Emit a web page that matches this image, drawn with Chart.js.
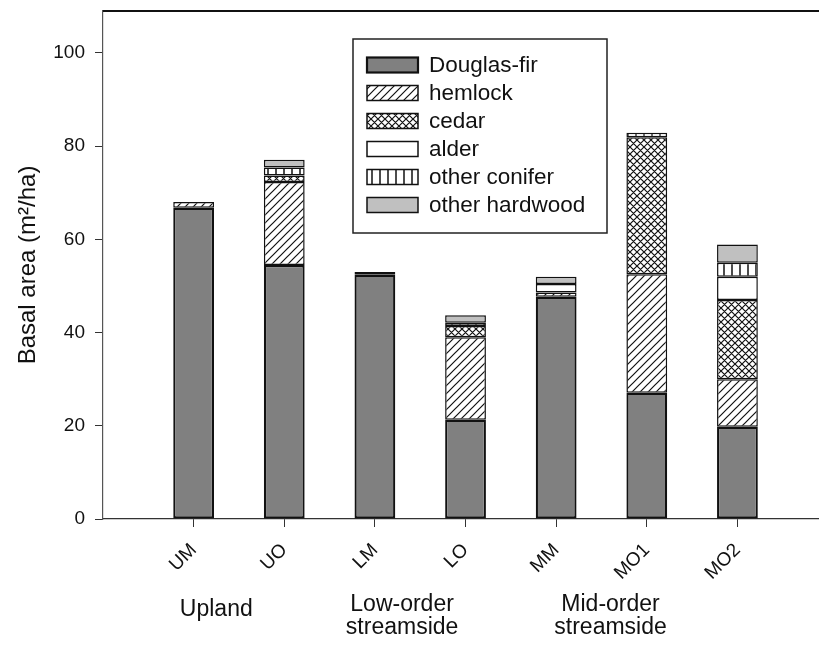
<!DOCTYPE html>
<html>
<head>
<meta charset="utf-8">
<script src="https://cdn.jsdelivr.net/npm/chart.js@4.4.1/dist/chart.umd.min.js"></script>
<style>
  html, body { margin: 0; padding: 0; background: #fff; overflow: hidden; }
  canvas { display: block; }
</style>
</head>
<body>
<canvas id="chart" width="819" height="645"></canvas>
<script>
// ---- data (basal area, m2/ha) ----
var sites = ['UM', 'UO', 'LM', 'LO', 'MM', 'MO1', 'MO2'];
var douglasFir    = [66.8, 54.5, 52.4, 21.3, 47.7, 27.1, 19.8];
var hemlock       = [1.2, 17.8, 0.6, 17.7, 0.9, 25.4, 10.2];
var cedar         = [0, 1.4, 0, 2.4, 0, 29.4, 17.0];
var alder         = [0, 0, 0, 0, 1.8, 0, 5.0];
var otherConifer  = [0, 1.7, 0, 0.7, 0, 1.0, 3.0];
var otherHardwood = [0, 1.7, 0, 1.6, 1.6, 0, 3.9];
var groupLabels = [['Upland'], ['Low-order', 'streamside'], ['Mid-order', 'streamside']];
var yTicks = [0, 20, 40, 60, 80, 100];

var FONT = "'Liberation Sans', Arial, sans-serif";

// ---- fill patterns ----
function makePattern(kind) {
  var size = kind === 'cross' ? 7 : 8;
  var c = document.createElement('canvas');
  c.width = size; c.height = size;
  var g = c.getContext('2d');
  g.fillStyle = '#fff';
  g.fillRect(0, 0, size, size);
  g.strokeStyle = '#111';
  g.lineWidth = 1.2;
  g.beginPath();
  if (kind === 'hatch' || kind === 'cross') {
    g.moveTo(-1, size + 1); g.lineTo(size + 1, -1);
    g.moveTo(-2, 2); g.lineTo(2, -2);
    g.moveTo(size - 2, size + 2); g.lineTo(size + 2, size - 2);
  }
  if (kind === 'cross') {
    g.moveTo(-1, -1); g.lineTo(size + 1, size + 1);
    g.moveTo(-2, size - 2); g.lineTo(2, size + 2);
    g.moveTo(size - 2, -2); g.lineTo(size + 2, 2);
  }
  if (kind === 'vert') {
    g.lineWidth = 1.5;
    g.moveTo(4, 0); g.lineTo(4, size);
  }
  g.stroke();
  return g.createPattern(c, 'repeat');
}

function pts(arr) {
  return arr.map(function(v, i) { return { x: i + 1, y: v || null }; });
}

function ds(label, arr, fill, bw) {
  return {
    label: label, data: pts(arr), backgroundColor: fill,
    borderColor: '#111', borderWidth: bw || 1.5, borderSkipped: false,
    barPercentage: 0.45, categoryPercentage: 1
  };
}

// ---- decorations: frame top line, y title, group labels, legend ----
var decorPlugin = {
  id: 'decor',
  afterDraw: function(chart) {
    var ctx = chart.ctx, a = chart.chartArea, xs = chart.scales.x;
    ctx.save();
    // top frame line
    ctx.strokeStyle = '#111'; ctx.lineWidth = 2;
    ctx.beginPath(); ctx.moveTo(a.left, a.top); ctx.lineTo(a.right, a.top); ctx.stroke();

    // y title
    ctx.fillStyle = '#111';
    ctx.font = '24px ' + FONT;
    ctx.textAlign = 'center'; ctx.textBaseline = 'middle';
    ctx.translate(28, (a.top + a.bottom) / 2);
    ctx.rotate(-Math.PI / 2);
    ctx.fillText('Basal area (m\u00B2/ha)', 0, 0);
    ctx.setTransform(1, 0, 0, 1, 0, 0);

    // group labels
    var at = chart.options.plugins.decor.groupAt;
    ctx.font = '23px ' + FONT;
    groupLabels.forEach(function(lines, i) {
      var gx = xs.getPixelForValue(at[i]);
      var y0 = lines.length > 1 ? 605 : 610;
      lines.forEach(function(t, j) {
        ctx.fillText(t, gx, y0 + j * 23);
      });
    });

    // legend box
    var L = chart.options.plugins.decor.legend;
    ctx.fillStyle = '#fff';
    ctx.fillRect(L.x, L.y, L.w, L.h);
    ctx.strokeStyle = '#222'; ctx.lineWidth = 1.5;
    ctx.strokeRect(L.x, L.y, L.w, L.h);
    ctx.font = '22.5px ' + FONT;
    ctx.textAlign = 'left';
    chart.data.datasets.forEach(function(d, i) {
      var cy = L.y + 26 + i * 28;
      ctx.fillStyle = d.backgroundColor;
      ctx.fillRect(L.x + 14, cy - 7.5, 51, 15);
      ctx.strokeStyle = '#111'; ctx.lineWidth = d.borderWidth;
      ctx.strokeRect(L.x + 14, cy - 7.5, 51, 15);
      ctx.fillStyle = '#111';
      ctx.fillText(d.label, L.x + 76, cy + 1);
    });
    ctx.restore();
  }
};

new Chart(document.getElementById('chart').getContext('2d'), {
  type: 'bar',
  data: {
    datasets: [
      ds('Douglas-fir', douglasFir, '#808080', 2.2),
      ds('hemlock', hemlock, makePattern('hatch')),
      ds('cedar', cedar, makePattern('cross')),
      ds('alder', alder, '#ffffff'),
      ds('other conifer', otherConifer, makePattern('vert')),
      ds('other hardwood', otherHardwood, '#c0c0c0')
    ]
  },
  options: {
    responsive: false, animation: false,
    layout: { padding: { top: 11, left: 0, right: 0, bottom: 0 } },
    scales: {
      x: {
        type: 'linear', stacked: true, min: 0, max: 7.9, offset: false,
        afterFit: function(s) { s.height = 126; s.paddingLeft = 0; s.paddingRight = 0; },
        afterBuildTicks: function(s) {
          s.ticks = sites.map(function(n, i) { return { value: i + 1 }; });
        },
        grid: { drawOnChartArea: false, offset: false, tickLength: 8, color: '#333', lineWidth: 1 },
        border: { color: '#333', width: 1.2 },
        ticks: {
          color: '#111', font: { size: 19, family: FONT },
          maxRotation: 45, minRotation: 45, padding: 12, autoSkip: false,
          callback: function(v) { return sites[v - 1]; }
        }
      },
      y: {
        stacked: true, min: 0, max: 109,
        afterFit: function(s) { s.width = 103; s.paddingTop = 0; s.paddingBottom = 0; },
        afterBuildTicks: function(s) {
          s.ticks = yTicks.map(function(v) { return { value: v }; });
        },
        grid: { drawOnChartArea: false, tickLength: 8, color: '#333', lineWidth: 1 },
        border: { color: '#555', width: 1.2 },
        ticks: { color: '#111', font: { size: 19, family: FONT }, padding: 10 }
      }
    },
    plugins: {
      legend: { display: false },
      tooltip: { enabled: false },
      decor: {
        groupAt: [1.25, 3.3, 5.6],
        legend: { x: 353, y: 39, w: 254, h: 194 }
      }
    }
  },
  plugins: [decorPlugin]
});
</script>
</body>
</html>
